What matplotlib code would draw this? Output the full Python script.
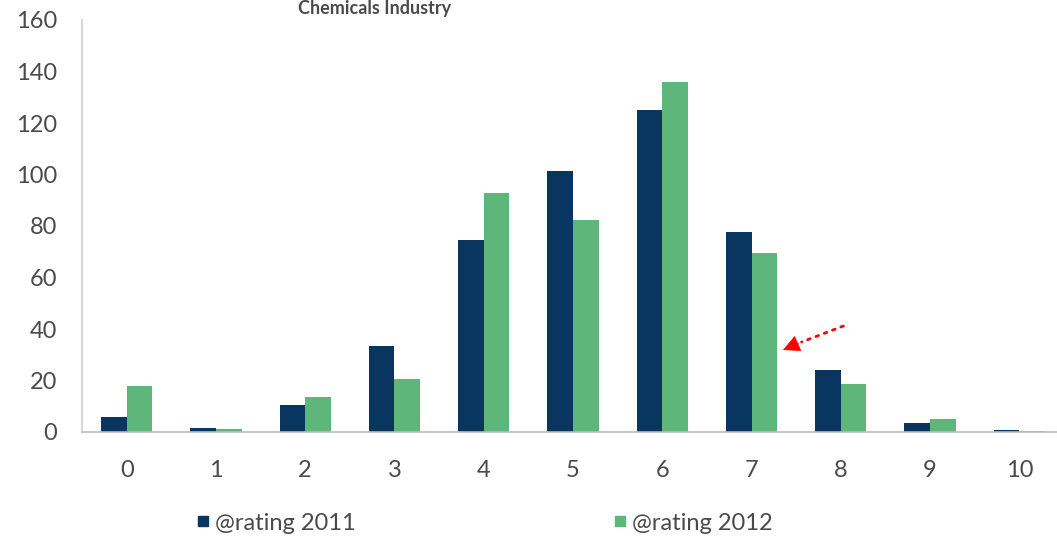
import numpy as np
import matplotlib.pyplot as plt
from matplotlib.lines import Line2D

categories = ['0', '1', '2', '3', '4', '5', '6', '7', '8', '9', '10']
rating_2011 = [6, 1.5, 10.5, 33.5, 74.5, 101.5, 125, 77.5, 24, 3.6, 0.6]
rating_2012 = [17.7, 1.2, 13.7, 20.7, 93, 82.5, 136, 69.5, 18.7, 5.2, 0.3]
y_ticks = [0, 20, 40, 60, 80, 100, 120, 140, 160]

navy = '#083660'
green = '#5fb67b'
text_grey = '#4a4a4a'

plt.rcParams['font.family'] = ['Lato', 'DejaVu Sans']

fig = plt.figure(figsize=(10.57, 5.39), dpi=100)
W, H = 1057, 539
ax = fig.add_axes([82 / W, (H - 432) / H, (1064 - 82) / W, 412 / H])

x = np.arange(len(categories))
w = 0.287
ax.bar(x - w / 2, rating_2011, w, color=navy, label='@rating 2011')
ax.bar(x + w / 2, rating_2012, w, color=green, label='@rating 2012')

ax.set_xlim(-0.5, 10.5)
ax.set_ylim(0, 160)
ax.set_yticks(y_ticks)
ax.set_xticks(x)
ax.set_xticklabels(categories)
ax.tick_params(axis='both', length=0, labelsize=17, colors=text_grey)
ax.tick_params(axis='x', pad=20)
ax.tick_params(axis='y', pad=18)

for s in ['top', 'right']:
    ax.spines[s].set_visible(False)
ax.spines['left'].set_color('#cfcfcf')
ax.spines['bottom'].set_color('#bdbdbd')
ax.spines['left'].set_linewidth(1.2)
ax.spines['bottom'].set_linewidth(1.2)

# title sits at the very top of the picture
fig.text(375 / W, 1 - 14 / H, 'Chemicals Industry', ha='center', va='baseline',
         fontsize=13, fontweight='bold', color=text_grey)

handles = [Line2D([], [], marker='s', linestyle='none', markersize=7, color=navy),
           Line2D([], [], marker='s', linestyle='none', markersize=7, color=green)]
fig.legend(handles, ['@rating 2011', '@rating 2012'], ncol=2, frameon=False,
           loc='center left', bbox_to_anchor=(170 / W, 1 - 523 / H),
           fontsize=17, labelcolor=text_grey, handletextpad=0.0,
           columnspacing=10.7, handlelength=1.0)

# red dotted arrow: dotted shaft plus solid head
tip = (783 / W, 1 - 350 / H)
base = (799 / W, 1 - 343 / H)
tail = (846 / W, 1 - 325 / H)
ax.annotate('', xy=base, xycoords='figure fraction',
            xytext=tail, textcoords='figure fraction',
            arrowprops=dict(arrowstyle='-', color='red', linestyle=(0, (1, 2.2)),
                            linewidth=2))
ax.annotate('', xy=tip, xycoords='figure fraction',
            xytext=base, textcoords='figure fraction',
            arrowprops=dict(arrowstyle='-|>,head_length=1.1,head_width=0.55',
                            color='red', linewidth=0.5, shrinkA=0, shrinkB=0))

fig.savefig('out.png', dpi=100)
